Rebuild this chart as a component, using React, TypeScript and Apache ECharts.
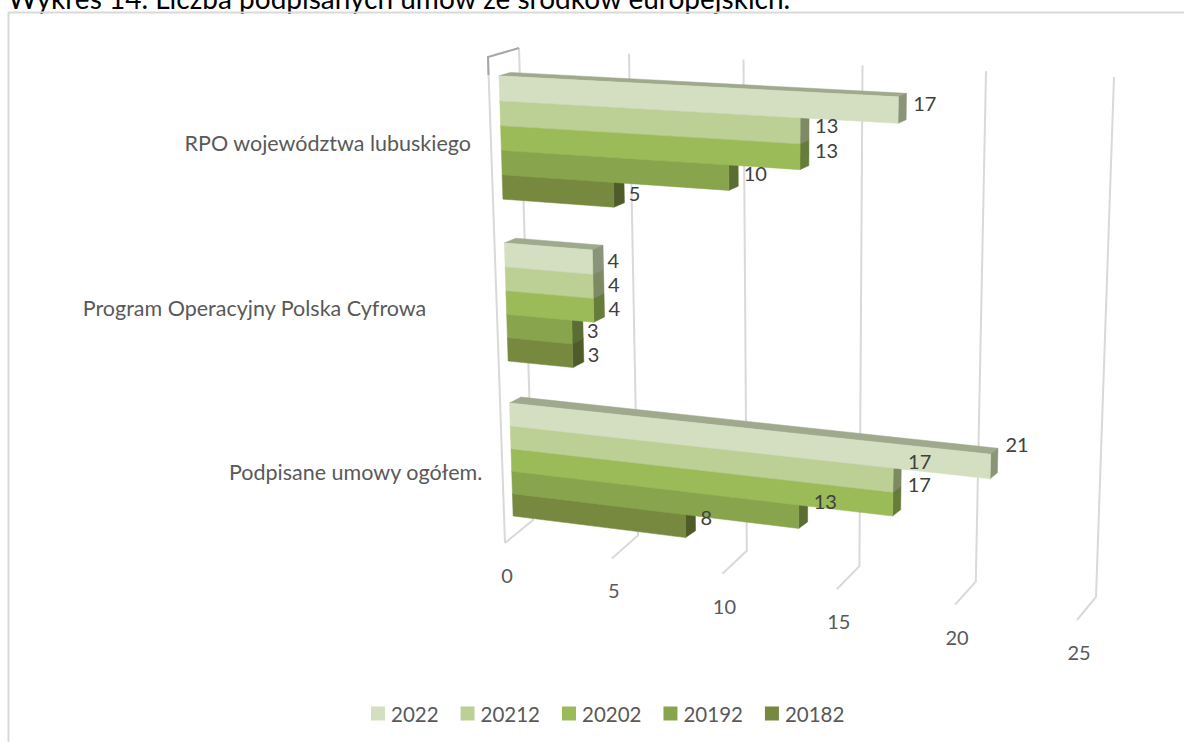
import React, { useEffect, useRef } from "react";
import * as echarts from "echarts";

const titleText = "Wykres 14. Liczba podpisanych umów ze środków europejskich.";
const categories = ["RPO województwa lubuskiego", "Program Operacyjny Polska Cyfrowa", "Podpisane umowy ogółem."];
const years = ["2022", "20212", "20202", "20192", "20182"];
const values2022 = [17, 4, 21];
const values2021 = [13, 4, 17];
const values2020 = [13, 4, 17];
const values2019 = [10, 3, 13];
const values2018 = [5, 3, 8];
const allValues = [values2022, values2021, values2020, values2019, values2018];
const axisTicks = [0, 5, 10, 15, 20, 25];
const frontColors = ["#d3dfc0", "#bccf95", "#9bbb59", "#88a44d", "#76893e"];
const sideColors = ["#8a9479", "#7d8a63", "#667c3a", "#5a6d33", "#4f5b29"];
const topColors = ["#9fa98d", "#8b9a6c", "#738a42", "#657a39", "#57662e"];

const FONT = "Lato, 'Noto Sans', sans-serif";
const GRID_LEFT = 499;
const GRID_TOP = 53.1;
const UNIT = 21.9;
const ROW_SPAN = 171.5;
const ROW_H = 0.1468;
const GROUP_OFFSET = 0.367;

// The reference is a perspective drawing: axis coordinates are warped into it.
function y0Of(py: number) {
  const p = (py - GRID_TOP) / ROW_SPAN;
  return py - 3.5 * p * p;
}
function warp(px: number, py: number): number[] {
  const v = (px - GRID_LEFT) / UNIT;
  const y0 = y0Of(py);
  const x0 = 499 + (y0 - 77) * 0.0322;
  const a = 22.1 - 0.00276 * (y0 - 89);
  const dx = v * (a + 0.08 * v);
  const slope = 0.04 + 0.000165 * y0;
  return [x0 + dx, y0 + dx * slope];
}
function depth(px: number, py: number): number[] {
  const v = (px - GRID_LEFT) / UNIT;
  const y0 = y0Of(py);
  return [11.5 - 0.2 * v, -(2.9 + 0.0075 * y0)];
}
function rowTop(g: number, s: number) {
  return g + 0.5 - GROUP_OFFSET + s * ROW_H;
}

function barSeries(s: number) {
  return {
    type: "custom",
    name: years[s],
    coordinateSystem: "cartesian2d",
    z: 8 - s,
    silent: true,
    itemStyle: { color: frontColors[s] },
    data: allValues[s].map((v, g) => [v, g]),
    encode: { x: 0, y: 1 },
    renderItem: (_: any, api: any) => {
      const v = api.value(0);
      const g = api.value(1);
      const p1 = rowTop(g, s);
      const p2 = p1 + ROW_H;
      const tl = api.coord([0, p1]);
      const tr = api.coord([v, p1]);
      const bl = api.coord([0, p2]);
      const br = api.coord([v, p2]);
      const TL = warp(tl[0], tl[1]);
      const TR = warp(tr[0], tr[1]);
      const BL = warp(bl[0], bl[1]);
      const BR = warp(br[0], br[1]);
      const dTL = depth(tl[0], tl[1]);
      const dTR = depth(tr[0], tr[1]);
      const dBR = depth(br[0], br[1]);
      const TLb = [TL[0] + dTL[0], TL[1] + dTL[1]];
      const TRb = [TR[0] + dTR[0], TR[1] + dTR[1]];
      const BRb = [BR[0] + dBR[0], BR[1] + dBR[1]];
      const poly = (points: number[][], fill: string) => ({
        type: "polygon",
        shape: { points },
        style: { fill, stroke: fill, lineWidth: 0.5 },
      });
      return {
        type: "group",
        children: [
          poly([TL, TLb, TRb, TR], topColors[s]),
          poly([TR, TRb, BRb, BR], sideColors[s]),
          poly([TL, TR, BR, BL], frontColors[s]),
        ],
      };
    },
  };
}

const gridSeries = {
  type: "custom",
  name: "axis",
  coordinateSystem: "cartesian2d",
  z: 1,
  silent: true,
  data: axisTicks.map((t) => [t, 0]),
  encode: { x: 0, y: 1 },
  renderItem: (_: any, api: any) => {
    const t = api.value(0);
    const px = api.coord([t, 0])[0];
    const v = (px - GRID_LEFT) / UNIT;
    const top = [519 + v * (21.55 + 0.09 * v), 48 + 1.16 * v];
    const bottom = [533 + v * (20.62 + 0.076 * v), 520 + 3.08 * v];
    const tick = [bottom[0] - 28 + 0.36 * v, bottom[1] + 23];
    const lineStyle = { stroke: "#d9d9d9", lineWidth: 2, fill: "none" };
    const children: any[] = [
      { type: "polyline", shape: { points: [top, bottom, tick] }, style: lineStyle },
      {
        type: "text",
        style: {
          x: tick[0] + 2,
          y: tick[1] + 32,
          text: String(t),
          fill: "#595959",
          font: `20px ${FONT}`,
          align: "center",
          verticalAlign: "middle",
        },
      },
    ];
    if (t === 0) {
      children.push(
        { type: "line", shape: { x1: 488, y1: 57, x2: tick[0], y2: tick[1] }, style: { stroke: "#d9d9d9", lineWidth: 2 } },
        { type: "polyline", shape: { points: [[488.5, 75], [488, 57], top] }, style: { stroke: "#a6a6a6", lineWidth: 2, fill: "none" } },
      );
    }
    return { type: "group", children };
  },
};

const categoryGap = [30, 80, 29];
const categoryDrop = [5, 6, 12];
const categorySeries = {
  type: "custom",
  name: "categories",
  coordinateSystem: "cartesian2d",
  z: 20,
  silent: true,
  data: categories.map((_, g) => [0, g]),
  encode: { x: 0, y: 1 },
  renderItem: (_: any, api: any) => {
    const g = api.value(1);
    const c = api.coord([0, g + 0.5]);
    const P = warp(c[0], c[1]);
    return {
      type: "text",
      style: {
        x: P[0] - categoryGap[g],
        y: P[1] + categoryDrop[g],
        text: categories[g],
        fill: "#595959",
        font: `21.5px ${FONT}`,
        align: "right",
        verticalAlign: "middle",
      },
    };
  },
};

const labelSeries = {
  type: "custom",
  name: "labels",
  coordinateSystem: "cartesian2d",
  z: 30,
  silent: true,
  data: allValues.flatMap((vals, s) => vals.map((v, g) => [v, g, s])),
  encode: { x: 0, y: 1 },
  renderItem: (_: any, api: any) => {
    const v = api.value(0);
    const g = api.value(1);
    const s = api.value(2);
    const p = rowTop(g, s) + ROW_H / 2;
    const c0 = api.coord([0, p]);
    const c = api.coord([v, p]);
    const P0 = warp(c0[0], c0[1]);
    const P = warp(c[0], c[1]);
    const f = 0.62 - 0.00025 * (P0[1] - 89);
    return {
      type: "text",
      style: {
        x: P[0] + 15,
        y: P0[1] + f * (P[1] - P0[1]) + 1,
        text: String(v),
        fill: "#404040",
        font: `20px ${FONT}`,
        align: "left",
        verticalAlign: "middle",
      },
    };
  },
};

export default function App() {
  const ref = useRef<HTMLDivElement>(null);
  useEffect(() => {
    if (!ref.current) return;
    const chart = echarts.init(ref.current, undefined, { renderer: "svg" });
    chart.setOption({
      animation: false,
      backgroundColor: "#ffffff",
      grid: { left: GRID_LEFT, top: GRID_TOP, width: UNIT * 25, height: ROW_SPAN * 3 },
      xAxis: { type: "value", min: 0, max: 25, show: false },
      yAxis: { type: "value", min: 0, max: 3, inverse: true, show: false },
      legend: {
        data: years,
        left: 366,
        top: 698,
        itemWidth: 14,
        itemHeight: 14,
        itemGap: 22,
        icon: "rect",
        selectedMode: false,
        textStyle: { color: "#595959", fontSize: 20.5, fontFamily: FONT, padding: [0, 0, 0, 1] },
      },
      graphic: [
        {
          type: "text",
          x: 8,
          y: -16,
          style: { text: titleText, fill: "#000000", font: `28px ${FONT}` },
        },
        { type: "polyline", shape: { points: [[8.5, 742], [8.5, 12.5], [1184, 12.5]] }, style: { stroke: "#d9d9d9", lineWidth: 2, fill: "none" } },
      ],
      series: [gridSeries, ...years.map((_, s) => barSeries(s)), categorySeries, labelSeries],
    });
    return () => chart.dispose();
  }, []);
  return <div ref={ref} style={{ position: "fixed", left: 0, top: 0, width: 1184, height: 742 }} />;
}
